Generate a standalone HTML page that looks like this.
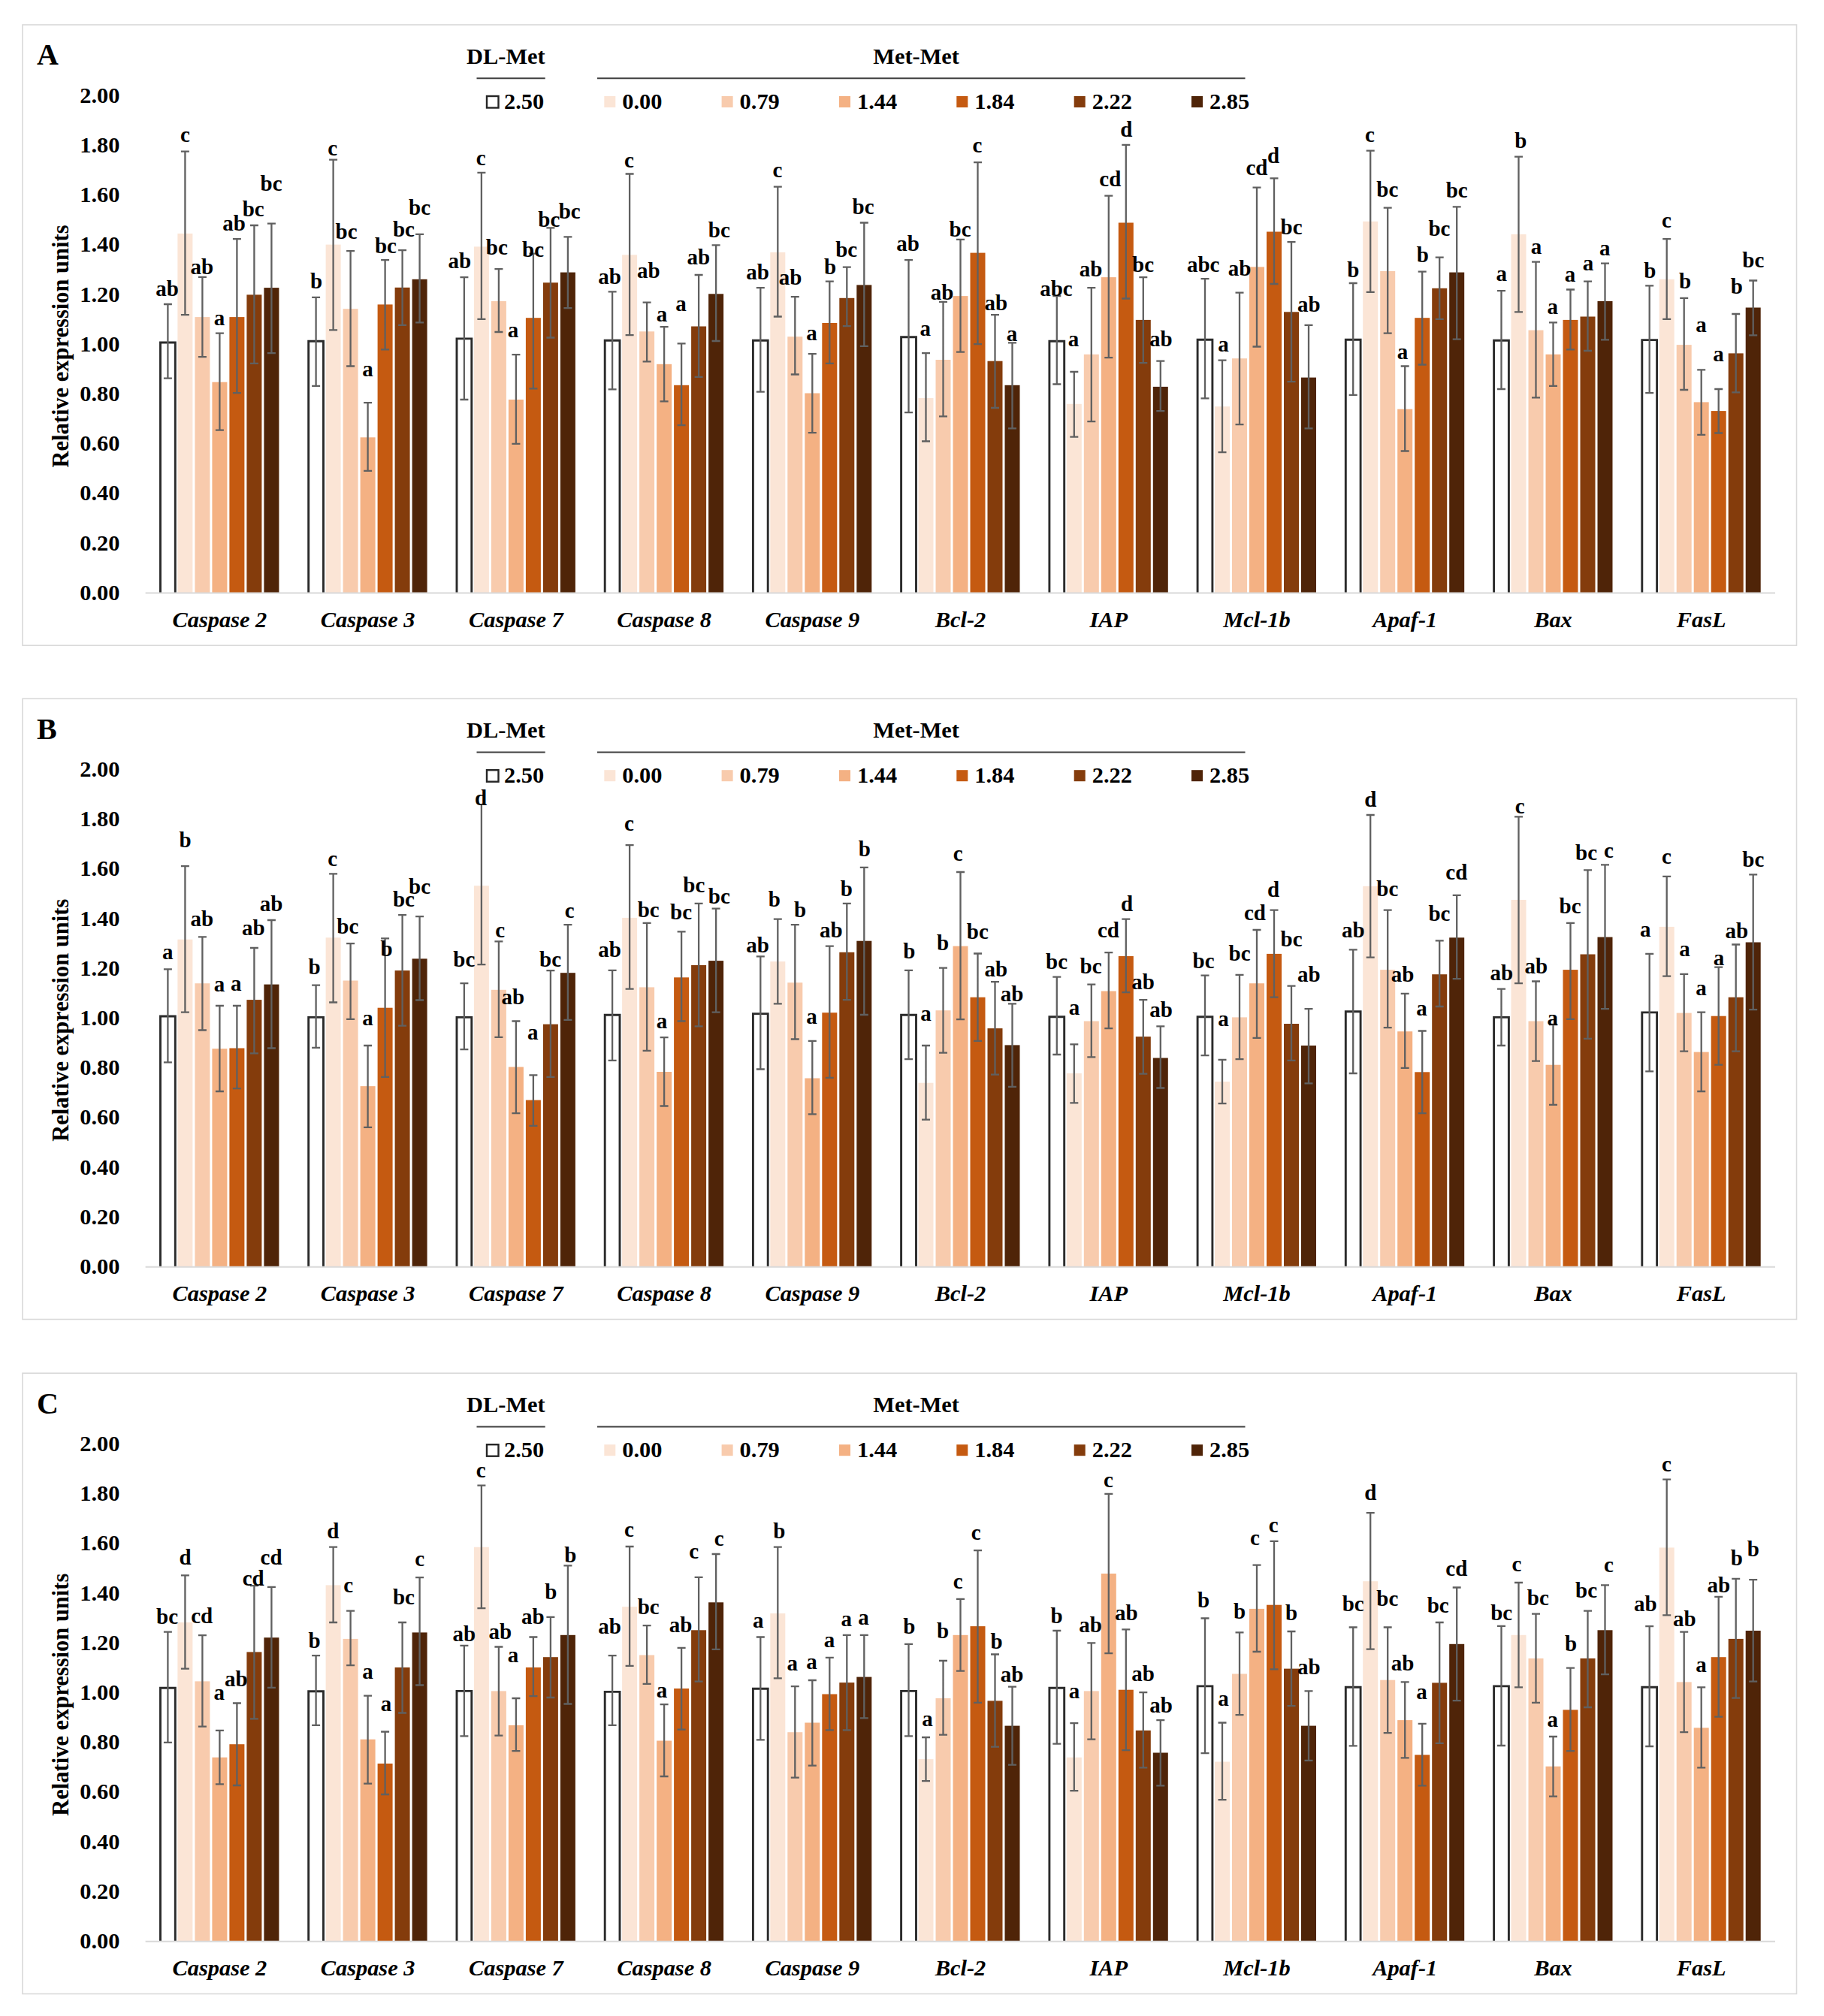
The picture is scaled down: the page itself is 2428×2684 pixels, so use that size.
<!DOCTYPE html><html><head><meta charset="utf-8"><title>Relative expression units</title>
<style>html,body{margin:0;padding:0;background:#fff}svg{display:block}text{font-family:"Liberation Serif","Times New Roman",serif;font-weight:bold;fill:#000}.ax{font-size:30.4px}.g{font-size:30.4px;font-style:italic}.l{font-size:29px}.p{font-size:40px}.e{stroke:#606060;stroke-width:2.3;fill:none}</style></head><body>
<svg width="2428" height="2684" viewBox="0 0 2428 2684">
<rect width="2428" height="2684" fill="#fff"/>
<g>
<rect x="30" y="33" width="2361.5" height="826.3" fill="#fff" stroke="#d9d9d9" stroke-width="1.6"/>
<text class="p" x="49" y="86.3">A</text>
<text class="ax" x="159.5" y="798.8" text-anchor="end">0.00</text>
<text class="ax" x="159.5" y="732.6" text-anchor="end">0.20</text>
<text class="ax" x="159.5" y="666.4" text-anchor="end">0.40</text>
<text class="ax" x="159.5" y="600.2" text-anchor="end">0.60</text>
<text class="ax" x="159.5" y="534" text-anchor="end">0.80</text>
<text class="ax" x="159.5" y="467.8" text-anchor="end">1.00</text>
<text class="ax" x="159.5" y="401.6" text-anchor="end">1.20</text>
<text class="ax" x="159.5" y="335.4" text-anchor="end">1.40</text>
<text class="ax" x="159.5" y="269.2" text-anchor="end">1.60</text>
<text class="ax" x="159.5" y="203" text-anchor="end">1.80</text>
<text class="ax" x="159.5" y="136.8" text-anchor="end">2.00</text>
<text class="ax" transform="translate(91,461) rotate(-90)" text-anchor="middle" style="font-size:30.5px">Relative expression units</text>
<text class="ax" x="673.4" y="85" text-anchor="middle">DL-Met</text>
<text class="ax" x="1219.6" y="85" text-anchor="middle">Met-Met</text>
<line x1="634.5" x2="725.7" y1="104.2" y2="104.2" stroke="#404040" stroke-width="2"/>
<line x1="795" x2="1657.5" y1="104.2" y2="104.2" stroke="#404040" stroke-width="2"/>
<rect x="648" y="128" width="15.5" height="15.5" fill="#fff" stroke="#262626" stroke-width="2.4"/>
<text class="ax" x="671" y="144.8">2.50</text>
<rect x="804.3" y="128" width="15" height="15" fill="#fbe5d6"/>
<text class="ax" x="828.3" y="144.8">0.00</text>
<rect x="960.6" y="128" width="15" height="15" fill="#f8cbad"/>
<text class="ax" x="984.6" y="144.8">0.79</text>
<rect x="1117" y="128" width="15" height="15" fill="#f4b183"/>
<text class="ax" x="1141" y="144.8">1.44</text>
<rect x="1273.3" y="128" width="15" height="15" fill="#c55a11"/>
<text class="ax" x="1297.3" y="144.8">1.84</text>
<rect x="1429.7" y="128" width="15" height="15" fill="#843c0c"/>
<text class="ax" x="1453.7" y="144.8">2.22</text>
<rect x="1586" y="128" width="15" height="15" fill="#4f2408"/>
<text class="ax" x="1610" y="144.8">2.85</text>
<path d="M213.5 789.2V456H233.3V789.2" fill="#fff" stroke="#2b2b2b" stroke-width="2.9" stroke-linejoin="miter"/>
<rect x="236.4" y="310.9" width="20" height="478.3" fill="#fbe5d6"/>
<rect x="259.4" y="422.1" width="20" height="367.1" fill="#f8cbad"/>
<rect x="282.4" y="508.7" width="20" height="280.5" fill="#f4b183"/>
<rect x="305.4" y="422.1" width="20" height="367.1" fill="#c55a11"/>
<rect x="328.4" y="392.4" width="20" height="396.8" fill="#843c0c"/>
<rect x="351.4" y="383.1" width="20" height="406.1" fill="#4f2408"/>
<path d="M410.7 789.2V454.3H430.5V789.2" fill="#fff" stroke="#2b2b2b" stroke-width="2.9" stroke-linejoin="miter"/>
<rect x="433.6" y="325.6" width="20" height="463.6" fill="#fbe5d6"/>
<rect x="456.6" y="411.2" width="20" height="378" fill="#f8cbad"/>
<rect x="479.6" y="582.3" width="20" height="206.9" fill="#f4b183"/>
<rect x="502.6" y="405.4" width="20" height="383.8" fill="#c55a11"/>
<rect x="525.6" y="382.8" width="20" height="406.4" fill="#843c0c"/>
<rect x="548.6" y="371.8" width="20" height="417.4" fill="#4f2408"/>
<path d="M608 789.2V450.9H627.8V789.2" fill="#fff" stroke="#2b2b2b" stroke-width="2.9" stroke-linejoin="miter"/>
<rect x="630.9" y="328.4" width="20" height="460.8" fill="#fbe5d6"/>
<rect x="653.9" y="400.9" width="20" height="388.3" fill="#f8cbad"/>
<rect x="676.9" y="532" width="20" height="257.2" fill="#f4b183"/>
<rect x="699.9" y="423.2" width="20" height="366" fill="#c55a11"/>
<rect x="722.9" y="376.3" width="20" height="412.9" fill="#843c0c"/>
<rect x="745.9" y="362.6" width="20" height="426.6" fill="#4f2408"/>
<path d="M805.2 789.2V453.3H825V789.2" fill="#fff" stroke="#2b2b2b" stroke-width="2.9" stroke-linejoin="miter"/>
<rect x="828.1" y="339.3" width="20" height="449.9" fill="#fbe5d6"/>
<rect x="851.1" y="441.3" width="20" height="347.9" fill="#f8cbad"/>
<rect x="874.1" y="484.8" width="20" height="304.4" fill="#f4b183"/>
<rect x="897.1" y="512.8" width="20" height="276.4" fill="#c55a11"/>
<rect x="920.1" y="434.5" width="20" height="354.7" fill="#843c0c"/>
<rect x="943.1" y="391.3" width="20" height="397.9" fill="#4f2408"/>
<path d="M1002.4 789.2V453.3H1022.2V789.2" fill="#fff" stroke="#2b2b2b" stroke-width="2.9" stroke-linejoin="miter"/>
<rect x="1025.3" y="335.9" width="20" height="453.3" fill="#fbe5d6"/>
<rect x="1048.3" y="448.2" width="20" height="341" fill="#f8cbad"/>
<rect x="1071.3" y="523.5" width="20" height="265.7" fill="#f4b183"/>
<rect x="1094.3" y="430" width="20" height="359.2" fill="#c55a11"/>
<rect x="1117.3" y="396.8" width="20" height="392.4" fill="#843c0c"/>
<rect x="1140.3" y="379.4" width="20" height="409.8" fill="#4f2408"/>
<path d="M1199.6 789.2V448.8H1219.5V789.2" fill="#fff" stroke="#2b2b2b" stroke-width="2.9" stroke-linejoin="miter"/>
<rect x="1222.5" y="530" width="20" height="259.2" fill="#fbe5d6"/>
<rect x="1245.5" y="479" width="20" height="310.2" fill="#f8cbad"/>
<rect x="1268.5" y="394.1" width="20" height="395.1" fill="#f4b183"/>
<rect x="1291.5" y="336.6" width="20" height="452.6" fill="#c55a11"/>
<rect x="1314.5" y="480.7" width="20" height="308.5" fill="#843c0c"/>
<rect x="1337.5" y="512.8" width="20" height="276.4" fill="#4f2408"/>
<path d="M1396.9 789.2V454.3H1416.7V789.2" fill="#fff" stroke="#2b2b2b" stroke-width="2.9" stroke-linejoin="miter"/>
<rect x="1419.8" y="537.8" width="20" height="251.4" fill="#fbe5d6"/>
<rect x="1442.8" y="471.8" width="20" height="317.4" fill="#f8cbad"/>
<rect x="1465.8" y="369.1" width="20" height="420.1" fill="#f4b183"/>
<rect x="1488.8" y="296.5" width="20" height="492.7" fill="#c55a11"/>
<rect x="1511.8" y="425.9" width="20" height="363.3" fill="#843c0c"/>
<rect x="1534.8" y="514.9" width="20" height="274.3" fill="#4f2408"/>
<path d="M1594.1 789.2V452.2H1613.9V789.2" fill="#fff" stroke="#2b2b2b" stroke-width="2.9" stroke-linejoin="miter"/>
<rect x="1617" y="541.2" width="20" height="248" fill="#fbe5d6"/>
<rect x="1640" y="477.2" width="20" height="312" fill="#f8cbad"/>
<rect x="1663" y="355.4" width="20" height="433.8" fill="#f4b183"/>
<rect x="1686" y="308.5" width="20" height="480.7" fill="#c55a11"/>
<rect x="1709" y="415.3" width="20" height="373.9" fill="#843c0c"/>
<rect x="1732" y="502.6" width="20" height="286.6" fill="#4f2408"/>
<path d="M1791.3 789.2V452.2H1811.1V789.2" fill="#fff" stroke="#2b2b2b" stroke-width="2.9" stroke-linejoin="miter"/>
<rect x="1814.2" y="294.8" width="20" height="494.4" fill="#fbe5d6"/>
<rect x="1837.2" y="360.9" width="20" height="428.3" fill="#f8cbad"/>
<rect x="1860.2" y="544.7" width="20" height="244.5" fill="#f4b183"/>
<rect x="1883.2" y="423.2" width="20" height="366" fill="#c55a11"/>
<rect x="1906.2" y="383.8" width="20" height="405.4" fill="#843c0c"/>
<rect x="1929.2" y="362.6" width="20" height="426.6" fill="#4f2408"/>
<path d="M1988.6 789.2V453.3H2008.4V789.2" fill="#fff" stroke="#2b2b2b" stroke-width="2.9" stroke-linejoin="miter"/>
<rect x="2011.5" y="311.9" width="20" height="477.3" fill="#fbe5d6"/>
<rect x="2034.5" y="439.6" width="20" height="349.6" fill="#f8cbad"/>
<rect x="2057.5" y="471.8" width="20" height="317.4" fill="#f4b183"/>
<rect x="2080.5" y="425.9" width="20" height="363.3" fill="#c55a11"/>
<rect x="2103.5" y="421.5" width="20" height="367.7" fill="#843c0c"/>
<rect x="2126.5" y="400.9" width="20" height="388.3" fill="#4f2408"/>
<path d="M2185.8 789.2V452.6H2205.6V789.2" fill="#fff" stroke="#2b2b2b" stroke-width="2.9" stroke-linejoin="miter"/>
<rect x="2208.7" y="371.8" width="20" height="417.4" fill="#fbe5d6"/>
<rect x="2231.7" y="459.1" width="20" height="330.1" fill="#f8cbad"/>
<rect x="2254.7" y="535.4" width="20" height="253.8" fill="#f4b183"/>
<rect x="2277.7" y="547.1" width="20" height="242.1" fill="#c55a11"/>
<rect x="2300.7" y="470.4" width="20" height="318.8" fill="#843c0c"/>
<rect x="2323.7" y="409.5" width="20" height="379.7" fill="#4f2408"/>
<line x1="193.6" x2="2363" y1="789.5" y2="789.5" stroke="#d9d9d9" stroke-width="2"/>
<path class="e" d="M223.4 405V503.6M217.9 405h11M217.9 503.6h11M246.4 201.7V419.1M240.9 201.7h11M240.9 419.1h11M269.4 368.8V475.2M263.9 368.8h11M263.9 475.2h11M292.4 443.7V572.7M286.9 443.7h11M286.9 572.7h11M315.4 318.1V523.1M309.9 318.1h11M309.9 523.1h11M338.4 300V483.8M332.9 300h11M332.9 483.8h11M361.4 297.6V470.1M355.9 297.6h11M355.9 470.1h11M420.6 395.8V513.9M415.1 395.8h11M415.1 513.9h11M443.6 212.7V439.3M438.1 212.7h11M438.1 439.3h11M466.6 334.2V487.5M461.1 334.2h11M461.1 487.5h11M489.6 536.1V626.8M484.1 536.1h11M484.1 626.8h11M512.6 346.2V465.3M507.1 346.2h11M507.1 465.3h11M535.6 333.2V432.8M530.1 333.2h11M530.1 432.8h11M558.6 311.9V429.3M553.1 311.9h11M553.1 429.3h11M617.9 369.1V532M612.4 369.1h11M612.4 532h11M640.9 229.8V424.9M635.4 229.8h11M635.4 424.9h11M663.9 358.1V442M658.4 358.1h11M658.4 442h11M686.9 472.1V590.9M681.4 472.1h11M681.4 590.9h11M709.9 337.6V517.3M704.4 337.6h11M704.4 517.3h11M732.9 303.4V449.5M727.4 303.4h11M727.4 449.5h11M755.9 315.4V410.2M750.4 315.4h11M750.4 410.2h11M815.1 388.3V518.3M809.6 388.3h11M809.6 518.3h11M838.1 231.5V446.1M832.6 231.5h11M832.6 446.1h11M861.1 402.6V481.4M855.6 402.6h11M855.6 481.4h11M884.1 435.1V534.4M878.6 435.1h11M878.6 534.4h11M907.1 457.4V566.2M901.6 457.4h11M901.6 566.2h11M930.1 366V501.9M924.6 366h11M924.6 501.9h11M953.1 326.3V454M947.6 326.3h11M947.6 454h11M1012.3 383.1V521.7M1006.8 383.1h11M1006.8 521.7h11M1035.3 248.6V421.5M1029.8 248.6h11M1029.8 421.5h11M1058.3 395.1V498.5M1052.8 395.1h11M1052.8 498.5h11M1081.3 471.1V576.2M1075.8 471.1h11M1075.8 576.2h11M1104.3 374.6V483.8M1098.8 374.6h11M1098.8 483.8h11M1127.3 355.7V434.1M1121.8 355.7h11M1121.8 434.1h11M1150.3 296.5V460.8M1144.8 296.5h11M1144.8 460.8h11M1209.5 346.2V549.1M1204 346.2h11M1204 549.1h11M1232.5 470.1V587.5M1227 470.1h11M1227 587.5h11M1255.5 401.9V554.3M1250 401.9h11M1250 554.3h11M1278.5 318.8V468.7M1273 318.8h11M1273 468.7h11M1301.5 216.1V458.1M1296 216.1h11M1296 458.1h11M1324.5 419.1V543M1319 419.1h11M1319 543h11M1347.5 456.4V570.3M1342 456.4h11M1342 570.3h11M1406.8 394.1V511.5M1401.3 394.1h11M1401.3 511.5h11M1429.8 495V581.6M1424.3 495h11M1424.3 581.6h11M1452.8 383.1V561.1M1447.3 383.1h11M1447.3 561.1h11M1475.8 260.6V476.2M1470.3 260.6h11M1470.3 476.2h11M1498.8 192.8V397.5M1493.3 192.8h11M1493.3 397.5h11M1521.8 369.1V483.1M1516.3 369.1h11M1516.3 483.1h11M1544.8 480.7V547.1M1539.3 480.7h11M1539.3 547.1h11M1604 371.1V530.3M1598.5 371.1h11M1598.5 530.3h11M1627 479.6V602.2M1621.5 479.6h11M1621.5 602.2h11M1650 389.6V565.2M1644.5 389.6h11M1644.5 565.2h11M1673 249.6V461.5M1667.5 249.6h11M1667.5 461.5h11M1696 237.3V378M1690.5 237.3h11M1690.5 378h11M1719 322.2V508.1M1713.5 322.2h11M1713.5 508.1h11M1742 432.8V570.3M1736.5 432.8h11M1736.5 570.3h11M1801.2 377V525.8M1795.7 377h11M1795.7 525.8h11M1824.2 200.7V388.9M1818.7 200.7h11M1818.7 388.9h11M1847.2 276.7V443.7M1841.7 276.7h11M1841.7 443.7h11M1870.2 487.5V600.5M1864.7 487.5h11M1864.7 600.5h11M1893.2 361.6V485.5M1887.7 361.6h11M1887.7 485.5h11M1916.2 342.7V424.9M1910.7 342.7h11M1910.7 424.9h11M1939.2 275.3V451.6M1933.7 275.3h11M1933.7 451.6h11M1998.5 387.2V518M1993 387.2h11M1993 518h11M2021.5 208.6V415.3M2016 208.6h11M2016 415.3h11M2044.5 348.6V529.3M2039 348.6h11M2039 529.3h11M2067.5 429.3V513.9M2062 429.3h11M2062 513.9h11M2090.5 385.5V465.3M2085 385.5h11M2085 465.3h11M2113.5 374.6V467M2108 374.6h11M2108 467h11M2136.5 350.6V452.3M2131 350.6h11M2131 452.3h11M2195.7 380.4V523.1M2190.2 380.4h11M2190.2 523.1h11M2218.7 318.1V424.9M2213.2 318.1h11M2213.2 424.9h11M2241.7 396.8V519M2236.2 396.8h11M2236.2 519h11M2264.7 492.3V578.9M2259.2 492.3h11M2259.2 578.9h11M2287.7 518V576.5M2282.2 518h11M2282.2 576.5h11M2310.7 418V522.4M2305.2 418h11M2305.2 522.4h11M2333.7 373.5V446.4M2328.2 373.5h11M2328.2 446.4h11"/>
<text class="l" x="222.5" y="394.1" text-anchor="middle">ab</text>
<text class="l" x="246.5" y="189.4" text-anchor="middle">c</text>
<text class="l" x="268.7" y="365" text-anchor="middle">ab</text>
<text class="l" x="292" y="432.8" text-anchor="middle">a</text>
<text class="l" x="311.5" y="306.8" text-anchor="middle">ab</text>
<text class="l" x="337.2" y="288" text-anchor="middle">bc</text>
<text class="l" x="361.1" y="253.8" text-anchor="middle">bc</text>
<text class="l" x="421" y="383.8" text-anchor="middle">b</text>
<text class="l" x="442.6" y="206.5" text-anchor="middle">c</text>
<text class="l" x="461.1" y="318.1" text-anchor="middle">bc</text>
<text class="l" x="489.5" y="501.2" text-anchor="middle">a</text>
<text class="l" x="513.4" y="336.6" text-anchor="middle">bc</text>
<text class="l" x="537.4" y="315.4" text-anchor="middle">bc</text>
<text class="l" x="558.6" y="285.6" text-anchor="middle">bc</text>
<text class="l" x="611.7" y="357.1" text-anchor="middle">ab</text>
<text class="l" x="640.1" y="219.5" text-anchor="middle">c</text>
<text class="l" x="661.3" y="338.6" text-anchor="middle">bc</text>
<text class="l" x="682.9" y="448.8" text-anchor="middle">a</text>
<text class="l" x="709.6" y="341.7" text-anchor="middle">bc</text>
<text class="l" x="730.8" y="301.7" text-anchor="middle">bc</text>
<text class="l" x="758.2" y="291.4" text-anchor="middle">bc</text>
<text class="l" x="811.5" y="377.6" text-anchor="middle">ab</text>
<text class="l" x="837.5" y="222.9" text-anchor="middle">c</text>
<text class="l" x="863.2" y="370.1" text-anchor="middle">ab</text>
<text class="l" x="881" y="428.3" text-anchor="middle">a</text>
<text class="l" x="906.6" y="413.9" text-anchor="middle">a</text>
<text class="l" x="929.9" y="352" text-anchor="middle">ab</text>
<text class="l" x="957.3" y="316.4" text-anchor="middle">bc</text>
<text class="l" x="1008.6" y="371.8" text-anchor="middle">ab</text>
<text class="l" x="1035" y="235.6" text-anchor="middle">c</text>
<text class="l" x="1052.1" y="378.7" text-anchor="middle">ab</text>
<text class="l" x="1080.5" y="453.3" text-anchor="middle">a</text>
<text class="l" x="1105.1" y="365" text-anchor="middle">b</text>
<text class="l" x="1126.7" y="342.1" text-anchor="middle">bc</text>
<text class="l" x="1149" y="284.6" text-anchor="middle">bc</text>
<text class="l" x="1208.5" y="334.2" text-anchor="middle">ab</text>
<text class="l" x="1231.8" y="447.1" text-anchor="middle">a</text>
<text class="l" x="1254" y="399.2" text-anchor="middle">ab</text>
<text class="l" x="1278" y="315.4" text-anchor="middle">bc</text>
<text class="l" x="1300.9" y="203.1" text-anchor="middle">c</text>
<text class="l" x="1325.9" y="412.9" text-anchor="middle">ab</text>
<text class="l" x="1347.1" y="454" text-anchor="middle">a</text>
<text class="l" x="1405.9" y="394.1" text-anchor="middle">abc</text>
<text class="l" x="1428.9" y="460.8" text-anchor="middle">a</text>
<text class="l" x="1452.1" y="368.4" text-anchor="middle">ab</text>
<text class="l" x="1477.8" y="247.9" text-anchor="middle">cd</text>
<text class="l" x="1499.4" y="181.9" text-anchor="middle">d</text>
<text class="l" x="1521.6" y="361.6" text-anchor="middle">bc</text>
<text class="l" x="1545.2" y="460.8" text-anchor="middle">ab</text>
<text class="l" x="1601.7" y="361.6" text-anchor="middle">abc</text>
<text class="l" x="1628.4" y="467.7" text-anchor="middle">a</text>
<text class="l" x="1650" y="366.7" text-anchor="middle">ab</text>
<text class="l" x="1672.9" y="232.5" text-anchor="middle">cd</text>
<text class="l" x="1695.1" y="217.1" text-anchor="middle">d</text>
<text class="l" x="1719.1" y="311.9" text-anchor="middle">bc</text>
<text class="l" x="1742.4" y="414.6" text-anchor="middle">ab</text>
<text class="l" x="1801.2" y="369.4" text-anchor="middle">b</text>
<text class="l" x="1823.5" y="188.7" text-anchor="middle">c</text>
<text class="l" x="1846.8" y="261.6" text-anchor="middle">bc</text>
<text class="l" x="1867" y="477.9" text-anchor="middle">a</text>
<text class="l" x="1893.7" y="348.6" text-anchor="middle">b</text>
<text class="l" x="1915.9" y="313.6" text-anchor="middle">bc</text>
<text class="l" x="1939.2" y="263" text-anchor="middle">bc</text>
<text class="l" x="1998.7" y="373.5" text-anchor="middle">a</text>
<text class="l" x="2024.3" y="197.3" text-anchor="middle">b</text>
<text class="l" x="2044.9" y="338.3" text-anchor="middle">a</text>
<text class="l" x="2066.8" y="418" text-anchor="middle">a</text>
<text class="l" x="2090.1" y="374.6" text-anchor="middle">a</text>
<text class="l" x="2114" y="359.9" text-anchor="middle">a</text>
<text class="l" x="2136.3" y="340.3" text-anchor="middle">a</text>
<text class="l" x="2196.2" y="370.1" text-anchor="middle">b</text>
<text class="l" x="2218.4" y="303.4" text-anchor="middle">c</text>
<text class="l" x="2243.1" y="383.8" text-anchor="middle">b</text>
<text class="l" x="2264.6" y="442" text-anchor="middle">a</text>
<text class="l" x="2287.5" y="480.7" text-anchor="middle">a</text>
<text class="l" x="2311.8" y="390.7" text-anchor="middle">b</text>
<text class="l" x="2333.8" y="355.7" text-anchor="middle">bc</text>
<text class="g" x="292.4" y="834.8" text-anchor="middle">Caspase 2</text>
<text class="g" x="489.6" y="834.8" text-anchor="middle">Caspase 3</text>
<text class="g" x="686.9" y="834.8" text-anchor="middle">Caspase 7</text>
<text class="g" x="884.1" y="834.8" text-anchor="middle">Caspase 8</text>
<text class="g" x="1081.3" y="834.8" text-anchor="middle">Caspase 9</text>
<text class="g" x="1278.5" y="834.8" text-anchor="middle">Bcl-2</text>
<text class="g" x="1475.8" y="834.8" text-anchor="middle">IAP</text>
<text class="g" x="1673" y="834.8" text-anchor="middle">Mcl-1b</text>
<text class="g" x="1870.2" y="834.8" text-anchor="middle">Apaf-1</text>
<text class="g" x="2067.5" y="834.8" text-anchor="middle">Bax</text>
<text class="g" x="2264.7" y="834.8" text-anchor="middle">FasL</text>
</g>
<g>
<rect x="30" y="930.2" width="2361.5" height="826.3" fill="#fff" stroke="#d9d9d9" stroke-width="1.6"/>
<text class="p" x="49" y="983.5">B</text>
<text class="ax" x="159.5" y="1696" text-anchor="end">0.00</text>
<text class="ax" x="159.5" y="1629.8" text-anchor="end">0.20</text>
<text class="ax" x="159.5" y="1563.6" text-anchor="end">0.40</text>
<text class="ax" x="159.5" y="1497.4" text-anchor="end">0.60</text>
<text class="ax" x="159.5" y="1431.2" text-anchor="end">0.80</text>
<text class="ax" x="159.5" y="1365" text-anchor="end">1.00</text>
<text class="ax" x="159.5" y="1298.8" text-anchor="end">1.20</text>
<text class="ax" x="159.5" y="1232.6" text-anchor="end">1.40</text>
<text class="ax" x="159.5" y="1166.4" text-anchor="end">1.60</text>
<text class="ax" x="159.5" y="1100.2" text-anchor="end">1.80</text>
<text class="ax" x="159.5" y="1034" text-anchor="end">2.00</text>
<text class="ax" transform="translate(91,1358.2) rotate(-90)" text-anchor="middle" style="font-size:30.5px">Relative expression units</text>
<text class="ax" x="673.4" y="982.2" text-anchor="middle">DL-Met</text>
<text class="ax" x="1219.6" y="982.2" text-anchor="middle">Met-Met</text>
<line x1="634.5" x2="725.7" y1="1001.4" y2="1001.4" stroke="#404040" stroke-width="2"/>
<line x1="795" x2="1657.5" y1="1001.4" y2="1001.4" stroke="#404040" stroke-width="2"/>
<rect x="648" y="1025.2" width="15.5" height="15.5" fill="#fff" stroke="#262626" stroke-width="2.4"/>
<text class="ax" x="671" y="1042">2.50</text>
<rect x="804.3" y="1025.2" width="15" height="15" fill="#fbe5d6"/>
<text class="ax" x="828.3" y="1042">0.00</text>
<rect x="960.6" y="1025.2" width="15" height="15" fill="#f8cbad"/>
<text class="ax" x="984.6" y="1042">0.79</text>
<rect x="1117" y="1025.2" width="15" height="15" fill="#f4b183"/>
<text class="ax" x="1141" y="1042">1.44</text>
<rect x="1273.3" y="1025.2" width="15" height="15" fill="#c55a11"/>
<text class="ax" x="1297.3" y="1042">1.84</text>
<rect x="1429.7" y="1025.2" width="15" height="15" fill="#843c0c"/>
<text class="ax" x="1453.7" y="1042">2.22</text>
<rect x="1586" y="1025.2" width="15" height="15" fill="#4f2408"/>
<text class="ax" x="1610" y="1042">2.85</text>
<path d="M213.5 1686.4V1353H233.3V1686.4" fill="#fff" stroke="#2b2b2b" stroke-width="2.9" stroke-linejoin="miter"/>
<rect x="236.4" y="1250.7" width="20" height="435.7" fill="#fbe5d6"/>
<rect x="259.4" y="1309.2" width="20" height="377.2" fill="#f8cbad"/>
<rect x="282.4" y="1396.2" width="20" height="290.2" fill="#f4b183"/>
<rect x="305.4" y="1395.5" width="20" height="290.9" fill="#c55a11"/>
<rect x="328.4" y="1331.1" width="20" height="355.3" fill="#843c0c"/>
<rect x="351.4" y="1310.6" width="20" height="375.8" fill="#4f2408"/>
<path d="M410.7 1686.4V1354.4H430.5V1686.4" fill="#fff" stroke="#2b2b2b" stroke-width="2.9" stroke-linejoin="miter"/>
<rect x="433.6" y="1248.3" width="20" height="438.1" fill="#fbe5d6"/>
<rect x="456.6" y="1305.5" width="20" height="380.9" fill="#f8cbad"/>
<rect x="479.6" y="1446.1" width="20" height="240.3" fill="#f4b183"/>
<rect x="502.6" y="1341.7" width="20" height="344.7" fill="#c55a11"/>
<rect x="525.6" y="1292.1" width="20" height="394.3" fill="#843c0c"/>
<rect x="548.6" y="1276.4" width="20" height="410" fill="#4f2408"/>
<path d="M608 1686.4V1354.4H627.8V1686.4" fill="#fff" stroke="#2b2b2b" stroke-width="2.9" stroke-linejoin="miter"/>
<rect x="630.9" y="1179.2" width="20" height="507.2" fill="#fbe5d6"/>
<rect x="653.9" y="1317.8" width="20" height="368.6" fill="#f8cbad"/>
<rect x="676.9" y="1420.5" width="20" height="265.9" fill="#f4b183"/>
<rect x="699.9" y="1464.6" width="20" height="221.8" fill="#c55a11"/>
<rect x="722.9" y="1363.6" width="20" height="322.8" fill="#843c0c"/>
<rect x="745.9" y="1295.2" width="20" height="391.2" fill="#4f2408"/>
<path d="M805.2 1686.4V1351.3H825V1686.4" fill="#fff" stroke="#2b2b2b" stroke-width="2.9" stroke-linejoin="miter"/>
<rect x="828.1" y="1221.9" width="20" height="464.5" fill="#fbe5d6"/>
<rect x="851.1" y="1314.4" width="20" height="372" fill="#f8cbad"/>
<rect x="874.1" y="1427" width="20" height="259.4" fill="#f4b183"/>
<rect x="897.1" y="1301.3" width="20" height="385.1" fill="#c55a11"/>
<rect x="920.1" y="1284.9" width="20" height="401.5" fill="#843c0c"/>
<rect x="943.1" y="1279.1" width="20" height="407.3" fill="#4f2408"/>
<path d="M1002.4 1686.4V1349.6H1022.2V1686.4" fill="#fff" stroke="#2b2b2b" stroke-width="2.9" stroke-linejoin="miter"/>
<rect x="1025.3" y="1280.1" width="20" height="406.3" fill="#fbe5d6"/>
<rect x="1048.3" y="1308.2" width="20" height="378.2" fill="#f8cbad"/>
<rect x="1071.3" y="1435.5" width="20" height="250.9" fill="#f4b183"/>
<rect x="1094.3" y="1348.2" width="20" height="338.2" fill="#c55a11"/>
<rect x="1117.3" y="1267.8" width="20" height="418.6" fill="#843c0c"/>
<rect x="1140.3" y="1252.7" width="20" height="433.7" fill="#4f2408"/>
<path d="M1199.6 1686.4V1351.3H1219.5V1686.4" fill="#fff" stroke="#2b2b2b" stroke-width="2.9" stroke-linejoin="miter"/>
<rect x="1222.5" y="1441.7" width="20" height="244.7" fill="#fbe5d6"/>
<rect x="1245.5" y="1345.2" width="20" height="341.2" fill="#f8cbad"/>
<rect x="1268.5" y="1259.6" width="20" height="426.8" fill="#f4b183"/>
<rect x="1291.5" y="1327.7" width="20" height="358.7" fill="#c55a11"/>
<rect x="1314.5" y="1369.1" width="20" height="317.3" fill="#843c0c"/>
<rect x="1337.5" y="1391.4" width="20" height="295" fill="#4f2408"/>
<path d="M1396.9 1686.4V1353.7H1416.7V1686.4" fill="#fff" stroke="#2b2b2b" stroke-width="2.9" stroke-linejoin="miter"/>
<rect x="1419.8" y="1429" width="20" height="257.4" fill="#fbe5d6"/>
<rect x="1442.8" y="1359.5" width="20" height="326.9" fill="#f8cbad"/>
<rect x="1465.8" y="1319.5" width="20" height="366.9" fill="#f4b183"/>
<rect x="1488.8" y="1272.9" width="20" height="413.5" fill="#c55a11"/>
<rect x="1511.8" y="1380.1" width="20" height="306.3" fill="#843c0c"/>
<rect x="1534.8" y="1408.5" width="20" height="277.9" fill="#4f2408"/>
<path d="M1594.1 1686.4V1353.7H1613.9V1686.4" fill="#fff" stroke="#2b2b2b" stroke-width="2.9" stroke-linejoin="miter"/>
<rect x="1617" y="1440" width="20" height="246.4" fill="#fbe5d6"/>
<rect x="1640" y="1354.4" width="20" height="332" fill="#f8cbad"/>
<rect x="1663" y="1309.2" width="20" height="377.2" fill="#f4b183"/>
<rect x="1686" y="1269.9" width="20" height="416.5" fill="#c55a11"/>
<rect x="1709" y="1363" width="20" height="323.4" fill="#843c0c"/>
<rect x="1732" y="1392" width="20" height="294.4" fill="#4f2408"/>
<path d="M1791.3 1686.4V1346.8H1811.1V1686.4" fill="#fff" stroke="#2b2b2b" stroke-width="2.9" stroke-linejoin="miter"/>
<rect x="1814.2" y="1179.8" width="20" height="506.6" fill="#fbe5d6"/>
<rect x="1837.2" y="1291.1" width="20" height="395.3" fill="#f8cbad"/>
<rect x="1860.2" y="1373.2" width="20" height="313.2" fill="#f4b183"/>
<rect x="1883.2" y="1427.3" width="20" height="259.1" fill="#c55a11"/>
<rect x="1906.2" y="1297.2" width="20" height="389.2" fill="#843c0c"/>
<rect x="1929.2" y="1248.3" width="20" height="438.1" fill="#4f2408"/>
<path d="M1988.6 1686.4V1354.4H2008.4V1686.4" fill="#fff" stroke="#2b2b2b" stroke-width="2.9" stroke-linejoin="miter"/>
<rect x="2011.5" y="1198" width="20" height="488.4" fill="#fbe5d6"/>
<rect x="2034.5" y="1359.5" width="20" height="326.9" fill="#f8cbad"/>
<rect x="2057.5" y="1417.7" width="20" height="268.7" fill="#f4b183"/>
<rect x="2080.5" y="1291.1" width="20" height="395.3" fill="#c55a11"/>
<rect x="2103.5" y="1270.5" width="20" height="415.9" fill="#843c0c"/>
<rect x="2126.5" y="1247.6" width="20" height="438.8" fill="#4f2408"/>
<path d="M2185.8 1686.4V1347.9H2205.6V1686.4" fill="#fff" stroke="#2b2b2b" stroke-width="2.9" stroke-linejoin="miter"/>
<rect x="2208.7" y="1233.9" width="20" height="452.5" fill="#fbe5d6"/>
<rect x="2231.7" y="1348.6" width="20" height="337.8" fill="#f8cbad"/>
<rect x="2254.7" y="1400.6" width="20" height="285.8" fill="#f4b183"/>
<rect x="2277.7" y="1352.7" width="20" height="333.7" fill="#c55a11"/>
<rect x="2300.7" y="1327.7" width="20" height="358.7" fill="#843c0c"/>
<rect x="2323.7" y="1254.5" width="20" height="431.9" fill="#4f2408"/>
<line x1="193.6" x2="2363" y1="1686.7" y2="1686.7" stroke="#d9d9d9" stroke-width="2"/>
<path class="e" d="M223.4 1290.4V1414.3M217.9 1290.4h11M217.9 1414.3h11M246.4 1153.1V1347.6M240.9 1153.1h11M240.9 1347.6h11M269.4 1247.3V1371.5M263.9 1247.3h11M263.9 1371.5h11M292.4 1339V1453M286.9 1339h11M286.9 1453h11M315.4 1339V1449.2M309.9 1339h11M309.9 1449.2h11M338.4 1262V1402.3M332.9 1262h11M332.9 1402.3h11M361.4 1225V1395.5M355.9 1225h11M355.9 1395.5h11M420.6 1311.6V1394.8M415.1 1311.6h11M415.1 1394.8h11M443.6 1163.4V1334.5M438.1 1163.4h11M438.1 1334.5h11M466.6 1256.2V1356.8M461.1 1256.2h11M461.1 1356.8h11M489.6 1392V1500.9M484.1 1392h11M484.1 1500.9h11M512.6 1249.3V1433.8M507.1 1249.3h11M507.1 1433.8h11M535.6 1218.2V1365.7M530.1 1218.2h11M530.1 1365.7h11M558.6 1220.2V1331.5M553.1 1220.2h11M553.1 1331.5h11M617.9 1309.2V1397.2M612.4 1309.2h11M612.4 1397.2h11M640.9 1068.6V1284.2M635.4 1068.6h11M635.4 1284.2h11M663.9 1253.4V1380.8M658.4 1253.4h11M658.4 1380.8h11M686.9 1359.5V1482.1M681.4 1359.5h11M681.4 1482.1h11M709.9 1431.4V1498.8M704.4 1431.4h11M704.4 1498.8h11M732.9 1292.1V1433.8M727.4 1292.1h11M727.4 1433.8h11M755.9 1231.2V1357.8M750.4 1231.2h11M750.4 1357.8h11M815.1 1291.8V1411.9M809.6 1291.8h11M809.6 1411.9h11M838.1 1125.1V1316.7M832.6 1125.1h11M832.6 1316.7h11M861.1 1228.8V1398.9M855.6 1228.8h11M855.6 1398.9h11M884.1 1381.1V1472.5M878.6 1381.1h11M878.6 1472.5h11M907.1 1240.4V1359.5M901.6 1240.4h11M901.6 1359.5h11M930.1 1202.8V1366.4M924.6 1202.8h11M924.6 1366.4h11M953.1 1209.6V1347.6M947.6 1209.6h11M947.6 1347.6h11M1012.3 1273.3V1423.5M1006.8 1273.3h11M1006.8 1423.5h11M1035.3 1223.7V1336.3M1029.8 1223.7h11M1029.8 1336.3h11M1058.3 1231.2V1383.5M1052.8 1231.2h11M1052.8 1383.5h11M1081.3 1385.9V1483.4M1075.8 1385.9h11M1075.8 1483.4h11M1104.3 1259.6V1434.8M1098.8 1259.6h11M1098.8 1434.8h11M1127.3 1202.8V1331.1M1121.8 1202.8h11M1121.8 1331.1h11M1150.3 1154.9V1351M1144.8 1154.9h11M1144.8 1351h11M1209.5 1291.8V1410.2M1204 1291.8h11M1204 1410.2h11M1232.5 1392V1490.6M1227 1392h11M1227 1490.6h11M1255.5 1288.7V1401.6M1250 1288.7h11M1250 1401.6h11M1278.5 1161V1357.1M1273 1161h11M1273 1357.1h11M1301.5 1269.5V1385.9M1296 1269.5h11M1296 1385.9h11M1324.5 1307.2V1430.7M1319 1307.2h11M1319 1430.7h11M1347.5 1336.3V1446.8M1342 1336.3h11M1342 1446.8h11M1406.8 1300.7V1404M1401.3 1300.7h11M1401.3 1404h11M1429.8 1390.3V1468.4M1424.3 1390.3h11M1424.3 1468.4h11M1452.8 1310.6V1407.4M1447.3 1310.6h11M1447.3 1407.4h11M1475.8 1268.1V1369.1M1470.3 1268.1h11M1470.3 1369.1h11M1498.8 1223.7V1321.2M1493.3 1223.7h11M1493.3 1321.2h11M1521.8 1331.1V1429.7M1516.3 1331.1h11M1516.3 1429.7h11M1544.8 1366.4V1448.5M1539.3 1366.4h11M1539.3 1448.5h11M1604 1298.6V1405.1M1598.5 1298.6h11M1598.5 1405.1h11M1627 1410.9V1469.1M1621.5 1410.9h11M1621.5 1469.1h11M1650 1297.9V1410.2M1644.5 1297.9h11M1644.5 1410.2h11M1673 1238V1381.8M1667.5 1238h11M1667.5 1381.8h11M1696 1211.7V1327.7M1690.5 1211.7h11M1690.5 1327.7h11M1719 1312.6V1411.9M1713.5 1312.6h11M1713.5 1411.9h11M1742 1343.1V1442.4M1736.5 1343.1h11M1736.5 1442.4h11M1801.2 1264.4V1429M1795.7 1264.4h11M1795.7 1429h11M1824.2 1085V1274.6M1818.7 1085h11M1818.7 1274.6h11M1847.2 1211.7V1368.1M1841.7 1211.7h11M1841.7 1368.1h11M1870.2 1322.9V1421.8M1864.7 1322.9h11M1864.7 1421.8h11M1893.2 1372.5V1482.1M1887.7 1372.5h11M1887.7 1482.1h11M1916.2 1252.4V1340M1910.7 1252.4h11M1910.7 1340h11M1939.2 1191.8V1303.1M1933.7 1191.8h11M1933.7 1303.1h11M1998.5 1316.7V1392M1993 1316.7h11M1993 1392h11M2021.5 1087.4V1309.2M2016 1087.4h11M2016 1309.2h11M2044.5 1306.5V1412.6M2039 1306.5h11M2039 1412.6h11M2067.5 1364V1470.8M2062 1364h11M2062 1470.8h11M2090.5 1228.8V1356.8M2085 1228.8h11M2085 1356.8h11M2113.5 1158.3V1382.8M2108 1158.3h11M2108 1382.8h11M2136.5 1151.4V1343.1M2131 1151.4h11M2131 1343.1h11M2195.7 1269.9V1426.3M2190.2 1269.9h11M2190.2 1426.3h11M2218.7 1166.8V1299.6M2213.2 1166.8h11M2213.2 1299.6h11M2241.7 1296.9V1399.6M2236.2 1296.9h11M2236.2 1399.6h11M2264.7 1347.6V1453M2259.2 1347.6h11M2259.2 1453h11M2287.7 1287.7V1417.7M2282.2 1287.7h11M2282.2 1417.7h11M2310.7 1257.5V1399.6M2305.2 1257.5h11M2305.2 1399.6h11M2333.7 1164.4V1344.1M2328.2 1164.4h11M2328.2 1344.1h11"/>
<text class="l" x="223.2" y="1276.7" text-anchor="middle">a</text>
<text class="l" x="246.5" y="1127.5" text-anchor="middle">b</text>
<text class="l" x="268.7" y="1232.9" text-anchor="middle">ab</text>
<text class="l" x="292" y="1320.2" text-anchor="middle">a</text>
<text class="l" x="314.2" y="1318.5" text-anchor="middle">a</text>
<text class="l" x="337.2" y="1244.9" text-anchor="middle">ab</text>
<text class="l" x="361.1" y="1213.4" text-anchor="middle">ab</text>
<text class="l" x="418.6" y="1297.2" text-anchor="middle">b</text>
<text class="l" x="442.6" y="1152.5" text-anchor="middle">c</text>
<text class="l" x="462.8" y="1243.2" text-anchor="middle">bc</text>
<text class="l" x="489.5" y="1364.7" text-anchor="middle">a</text>
<text class="l" x="514.5" y="1272.9" text-anchor="middle">b</text>
<text class="l" x="537.4" y="1206.5" text-anchor="middle">bc</text>
<text class="l" x="558.6" y="1190.1" text-anchor="middle">bc</text>
<text class="l" x="617.8" y="1287" text-anchor="middle">bc</text>
<rect x="625.1" y="1044.7" width="30" height="27" fill="#fff"/>
<text class="l" x="640.1" y="1071.7" text-anchor="middle">d</text>
<text class="l" x="665.7" y="1247.6" text-anchor="middle">c</text>
<text class="l" x="682.9" y="1337.3" text-anchor="middle">ab</text>
<text class="l" x="709.2" y="1383.5" text-anchor="middle">a</text>
<text class="l" x="732.5" y="1287" text-anchor="middle">bc</text>
<text class="l" x="758.2" y="1221.9" text-anchor="middle">c</text>
<text class="l" x="811.5" y="1274" text-anchor="middle">ab</text>
<text class="l" x="837.5" y="1106.3" text-anchor="middle">c</text>
<text class="l" x="863.2" y="1220.9" text-anchor="middle">bc</text>
<text class="l" x="881" y="1369.1" text-anchor="middle">a</text>
<text class="l" x="906.6" y="1224.3" text-anchor="middle">bc</text>
<text class="l" x="923.8" y="1188.4" text-anchor="middle">bc</text>
<text class="l" x="957.3" y="1203.1" text-anchor="middle">bc</text>
<text class="l" x="1008.6" y="1267.8" text-anchor="middle">ab</text>
<text class="l" x="1030.9" y="1207.2" text-anchor="middle">b</text>
<text class="l" x="1065.1" y="1220.9" text-anchor="middle">b</text>
<text class="l" x="1080.5" y="1363" text-anchor="middle">a</text>
<text class="l" x="1106.2" y="1248.3" text-anchor="middle">ab</text>
<text class="l" x="1126.7" y="1192.5" text-anchor="middle">b</text>
<text class="l" x="1150.7" y="1139.5" text-anchor="middle">b</text>
<text class="l" x="1210.2" y="1276.4" text-anchor="middle">b</text>
<text class="l" x="1232.5" y="1358.5" text-anchor="middle">a</text>
<text class="l" x="1255.1" y="1265.4" text-anchor="middle">b</text>
<text class="l" x="1275.3" y="1145.6" text-anchor="middle">c</text>
<text class="l" x="1301.3" y="1250" text-anchor="middle">bc</text>
<text class="l" x="1325.9" y="1299.6" text-anchor="middle">ab</text>
<text class="l" x="1347.1" y="1333.2" text-anchor="middle">ab</text>
<text class="l" x="1406.6" y="1290.4" text-anchor="middle">bc</text>
<text class="l" x="1429.9" y="1351" text-anchor="middle">a</text>
<text class="l" x="1452.1" y="1295.5" text-anchor="middle">bc</text>
<text class="l" x="1475.4" y="1247.6" text-anchor="middle">cd</text>
<text class="l" x="1500.1" y="1213" text-anchor="middle">d</text>
<text class="l" x="1521.6" y="1316.7" text-anchor="middle">ab</text>
<text class="l" x="1545.6" y="1354.4" text-anchor="middle">ab</text>
<text class="l" x="1602.1" y="1288.7" text-anchor="middle">bc</text>
<text class="l" x="1628.4" y="1366.4" text-anchor="middle">a</text>
<text class="l" x="1650" y="1279.1" text-anchor="middle">bc</text>
<text class="l" x="1670.5" y="1225" text-anchor="middle">cd</text>
<text class="l" x="1695.1" y="1193.5" text-anchor="middle">d</text>
<text class="l" x="1719.1" y="1259.6" text-anchor="middle">bc</text>
<text class="l" x="1742.4" y="1307.2" text-anchor="middle">ab</text>
<text class="l" x="1801.2" y="1247.6" text-anchor="middle">ab</text>
<text class="l" x="1824.2" y="1073.7" text-anchor="middle">d</text>
<text class="l" x="1846.8" y="1192.8" text-anchor="middle">bc</text>
<text class="l" x="1867" y="1306.5" text-anchor="middle">ab</text>
<text class="l" x="1892.6" y="1352" text-anchor="middle">a</text>
<text class="l" x="1915.9" y="1226" text-anchor="middle">bc</text>
<text class="l" x="1938.8" y="1171.3" text-anchor="middle">cd</text>
<text class="l" x="1998.7" y="1304.8" text-anchor="middle">ab</text>
<text class="l" x="2023.3" y="1083" text-anchor="middle">c</text>
<text class="l" x="2044.9" y="1295.5" text-anchor="middle">ab</text>
<text class="l" x="2066.8" y="1364.7" text-anchor="middle">a</text>
<text class="l" x="2090.1" y="1215.8" text-anchor="middle">bc</text>
<text class="l" x="2111.6" y="1144.6" text-anchor="middle">bc</text>
<text class="l" x="2141.4" y="1142.2" text-anchor="middle">c</text>
<text class="l" x="2190.3" y="1247.3" text-anchor="middle">a</text>
<text class="l" x="2218.4" y="1150.1" text-anchor="middle">c</text>
<text class="l" x="2242.4" y="1272.9" text-anchor="middle">a</text>
<text class="l" x="2264.6" y="1324.6" text-anchor="middle">a</text>
<text class="l" x="2287.9" y="1284.9" text-anchor="middle">a</text>
<text class="l" x="2311.8" y="1249.3" text-anchor="middle">ab</text>
<text class="l" x="2333.8" y="1154.2" text-anchor="middle">bc</text>
<text class="g" x="292.4" y="1732" text-anchor="middle">Caspase 2</text>
<text class="g" x="489.6" y="1732" text-anchor="middle">Caspase 3</text>
<text class="g" x="686.9" y="1732" text-anchor="middle">Caspase 7</text>
<text class="g" x="884.1" y="1732" text-anchor="middle">Caspase 8</text>
<text class="g" x="1081.3" y="1732" text-anchor="middle">Caspase 9</text>
<text class="g" x="1278.5" y="1732" text-anchor="middle">Bcl-2</text>
<text class="g" x="1475.8" y="1732" text-anchor="middle">IAP</text>
<text class="g" x="1673" y="1732" text-anchor="middle">Mcl-1b</text>
<text class="g" x="1870.2" y="1732" text-anchor="middle">Apaf-1</text>
<text class="g" x="2067.5" y="1732" text-anchor="middle">Bax</text>
<text class="g" x="2264.7" y="1732" text-anchor="middle">FasL</text>
</g>
<g>
<rect x="30" y="1828.2" width="2361.5" height="826.3" fill="#fff" stroke="#d9d9d9" stroke-width="1.6"/>
<text class="p" x="49" y="1881.5">C</text>
<text class="ax" x="159.5" y="2594" text-anchor="end">0.00</text>
<text class="ax" x="159.5" y="2527.8" text-anchor="end">0.20</text>
<text class="ax" x="159.5" y="2461.6" text-anchor="end">0.40</text>
<text class="ax" x="159.5" y="2395.4" text-anchor="end">0.60</text>
<text class="ax" x="159.5" y="2329.2" text-anchor="end">0.80</text>
<text class="ax" x="159.5" y="2263" text-anchor="end">1.00</text>
<text class="ax" x="159.5" y="2196.8" text-anchor="end">1.20</text>
<text class="ax" x="159.5" y="2130.6" text-anchor="end">1.40</text>
<text class="ax" x="159.5" y="2064.4" text-anchor="end">1.60</text>
<text class="ax" x="159.5" y="1998.2" text-anchor="end">1.80</text>
<text class="ax" x="159.5" y="1932" text-anchor="end">2.00</text>
<text class="ax" transform="translate(91,2256.2) rotate(-90)" text-anchor="middle" style="font-size:30.5px">Relative expression units</text>
<text class="ax" x="673.4" y="1880.2" text-anchor="middle">DL-Met</text>
<text class="ax" x="1219.6" y="1880.2" text-anchor="middle">Met-Met</text>
<line x1="634.5" x2="725.7" y1="1899.4" y2="1899.4" stroke="#404040" stroke-width="2"/>
<line x1="795" x2="1657.5" y1="1899.4" y2="1899.4" stroke="#404040" stroke-width="2"/>
<rect x="648" y="1923.2" width="15.5" height="15.5" fill="#fff" stroke="#262626" stroke-width="2.4"/>
<text class="ax" x="671" y="1940">2.50</text>
<rect x="804.3" y="1923.2" width="15" height="15" fill="#fbe5d6"/>
<text class="ax" x="828.3" y="1940">0.00</text>
<rect x="960.6" y="1923.2" width="15" height="15" fill="#f8cbad"/>
<text class="ax" x="984.6" y="1940">0.79</text>
<rect x="1117" y="1923.2" width="15" height="15" fill="#f4b183"/>
<text class="ax" x="1141" y="1940">1.44</text>
<rect x="1273.3" y="1923.2" width="15" height="15" fill="#c55a11"/>
<text class="ax" x="1297.3" y="1940">1.84</text>
<rect x="1429.7" y="1923.2" width="15" height="15" fill="#843c0c"/>
<text class="ax" x="1453.7" y="1940">2.22</text>
<rect x="1586" y="1923.2" width="15" height="15" fill="#4f2408"/>
<text class="ax" x="1610" y="1940">2.85</text>
<path d="M213.5 2584.4V2247.3H233.3V2584.4" fill="#fff" stroke="#2b2b2b" stroke-width="2.9" stroke-linejoin="miter"/>
<rect x="236.4" y="2160" width="20" height="424.4" fill="#fbe5d6"/>
<rect x="259.4" y="2238.4" width="20" height="346" fill="#f8cbad"/>
<rect x="282.4" y="2339.7" width="20" height="244.7" fill="#f4b183"/>
<rect x="305.4" y="2322.2" width="20" height="262.2" fill="#c55a11"/>
<rect x="328.4" y="2199.4" width="20" height="385" fill="#843c0c"/>
<rect x="351.4" y="2180.2" width="20" height="404.2" fill="#4f2408"/>
<path d="M410.7 2584.4V2251.7H430.5V2584.4" fill="#fff" stroke="#2b2b2b" stroke-width="2.9" stroke-linejoin="miter"/>
<rect x="433.6" y="2110.4" width="20" height="474" fill="#fbe5d6"/>
<rect x="456.6" y="2181.9" width="20" height="402.5" fill="#f8cbad"/>
<rect x="479.6" y="2315.7" width="20" height="268.7" fill="#f4b183"/>
<rect x="502.6" y="2347.9" width="20" height="236.5" fill="#c55a11"/>
<rect x="525.6" y="2219.9" width="20" height="364.5" fill="#843c0c"/>
<rect x="548.6" y="2173.4" width="20" height="411" fill="#4f2408"/>
<path d="M608 2584.4V2251.4H627.8V2584.4" fill="#fff" stroke="#2b2b2b" stroke-width="2.9" stroke-linejoin="miter"/>
<rect x="630.9" y="2059.7" width="20" height="524.7" fill="#fbe5d6"/>
<rect x="653.9" y="2251.4" width="20" height="333" fill="#f8cbad"/>
<rect x="676.9" y="2296.9" width="20" height="287.5" fill="#f4b183"/>
<rect x="699.9" y="2219.9" width="20" height="364.5" fill="#c55a11"/>
<rect x="722.9" y="2206.2" width="20" height="378.2" fill="#843c0c"/>
<rect x="745.9" y="2176.8" width="20" height="407.6" fill="#4f2408"/>
<path d="M805.2 2584.4V2252.4H825V2584.4" fill="#fff" stroke="#2b2b2b" stroke-width="2.9" stroke-linejoin="miter"/>
<rect x="828.1" y="2139.1" width="20" height="445.3" fill="#fbe5d6"/>
<rect x="851.1" y="2203.5" width="20" height="380.9" fill="#f8cbad"/>
<rect x="874.1" y="2317.5" width="20" height="266.9" fill="#f4b183"/>
<rect x="897.1" y="2248" width="20" height="336.4" fill="#c55a11"/>
<rect x="920.1" y="2170.3" width="20" height="414.1" fill="#843c0c"/>
<rect x="943.1" y="2133.3" width="20" height="451.1" fill="#4f2408"/>
<path d="M1002.4 2584.4V2248.3H1022.2V2584.4" fill="#fff" stroke="#2b2b2b" stroke-width="2.9" stroke-linejoin="miter"/>
<rect x="1025.3" y="2148" width="20" height="436.4" fill="#fbe5d6"/>
<rect x="1048.3" y="2306.2" width="20" height="278.2" fill="#f8cbad"/>
<rect x="1071.3" y="2293.5" width="20" height="290.9" fill="#f4b183"/>
<rect x="1094.3" y="2255.5" width="20" height="328.9" fill="#c55a11"/>
<rect x="1117.3" y="2240.1" width="20" height="344.3" fill="#843c0c"/>
<rect x="1140.3" y="2232.6" width="20" height="351.8" fill="#4f2408"/>
<path d="M1199.6 2584.4V2251.4H1219.5V2584.4" fill="#fff" stroke="#2b2b2b" stroke-width="2.9" stroke-linejoin="miter"/>
<rect x="1222.5" y="2342.1" width="20" height="242.3" fill="#fbe5d6"/>
<rect x="1245.5" y="2261" width="20" height="323.4" fill="#f8cbad"/>
<rect x="1268.5" y="2176.8" width="20" height="407.6" fill="#f4b183"/>
<rect x="1291.5" y="2165.1" width="20" height="419.3" fill="#c55a11"/>
<rect x="1314.5" y="2264.4" width="20" height="320" fill="#843c0c"/>
<rect x="1337.5" y="2297.6" width="20" height="286.8" fill="#4f2408"/>
<path d="M1396.9 2584.4V2247.3H1416.7V2584.4" fill="#fff" stroke="#2b2b2b" stroke-width="2.9" stroke-linejoin="miter"/>
<rect x="1419.8" y="2339.7" width="20" height="244.7" fill="#fbe5d6"/>
<rect x="1442.8" y="2251.4" width="20" height="333" fill="#f8cbad"/>
<rect x="1465.8" y="2095" width="20" height="489.4" fill="#f4b183"/>
<rect x="1488.8" y="2249.7" width="20" height="334.7" fill="#c55a11"/>
<rect x="1511.8" y="2303.8" width="20" height="280.6" fill="#843c0c"/>
<rect x="1534.8" y="2333.5" width="20" height="250.9" fill="#4f2408"/>
<path d="M1594.1 2584.4V2244.9H1613.9V2584.4" fill="#fff" stroke="#2b2b2b" stroke-width="2.9" stroke-linejoin="miter"/>
<rect x="1617" y="2345.5" width="20" height="238.9" fill="#fbe5d6"/>
<rect x="1640" y="2228.5" width="20" height="355.9" fill="#f8cbad"/>
<rect x="1663" y="2141.9" width="20" height="442.5" fill="#f4b183"/>
<rect x="1686" y="2136.7" width="20" height="447.7" fill="#c55a11"/>
<rect x="1709" y="2221.6" width="20" height="362.8" fill="#843c0c"/>
<rect x="1732" y="2297.6" width="20" height="286.8" fill="#4f2408"/>
<path d="M1791.3 2584.4V2246.2H1811.1V2584.4" fill="#fff" stroke="#2b2b2b" stroke-width="2.9" stroke-linejoin="miter"/>
<rect x="1814.2" y="2105.2" width="20" height="479.2" fill="#fbe5d6"/>
<rect x="1837.2" y="2236.7" width="20" height="347.7" fill="#f8cbad"/>
<rect x="1860.2" y="2290.1" width="20" height="294.3" fill="#f4b183"/>
<rect x="1883.2" y="2336.3" width="20" height="248.1" fill="#c55a11"/>
<rect x="1906.2" y="2240.4" width="20" height="344" fill="#843c0c"/>
<rect x="1929.2" y="2188.8" width="20" height="395.6" fill="#4f2408"/>
<path d="M1988.6 2584.4V2244.9H2008.4V2584.4" fill="#fff" stroke="#2b2b2b" stroke-width="2.9" stroke-linejoin="miter"/>
<rect x="2011.5" y="2176.8" width="20" height="407.6" fill="#fbe5d6"/>
<rect x="2034.5" y="2207.9" width="20" height="376.5" fill="#f8cbad"/>
<rect x="2057.5" y="2351.7" width="20" height="232.7" fill="#f4b183"/>
<rect x="2080.5" y="2276.4" width="20" height="308" fill="#c55a11"/>
<rect x="2103.5" y="2207.9" width="20" height="376.5" fill="#843c0c"/>
<rect x="2126.5" y="2170.3" width="20" height="414.1" fill="#4f2408"/>
<path d="M2185.8 2584.4V2246.2H2205.6V2584.4" fill="#fff" stroke="#2b2b2b" stroke-width="2.9" stroke-linejoin="miter"/>
<rect x="2208.7" y="2060.4" width="20" height="524" fill="#fbe5d6"/>
<rect x="2231.7" y="2239.4" width="20" height="345" fill="#f8cbad"/>
<rect x="2254.7" y="2300.3" width="20" height="284.1" fill="#f4b183"/>
<rect x="2277.7" y="2206.2" width="20" height="378.2" fill="#c55a11"/>
<rect x="2300.7" y="2181.9" width="20" height="402.5" fill="#843c0c"/>
<rect x="2323.7" y="2171" width="20" height="413.4" fill="#4f2408"/>
<line x1="193.6" x2="2363" y1="2584.7" y2="2584.7" stroke="#d9d9d9" stroke-width="2"/>
<path class="e" d="M223.4 2172.7V2319.8M217.9 2172.7h11M217.9 2319.8h11M246.4 2097.4V2221.6M240.9 2097.4h11M240.9 2221.6h11M269.4 2177.1V2298.6M263.9 2177.1h11M263.9 2298.6h11M292.4 2303.8V2375.3M286.9 2303.8h11M286.9 2375.3h11M315.4 2267.5V2377M309.9 2267.5h11M309.9 2377h11M338.4 2111.1V2288.4M332.9 2111.1h11M332.9 2288.4h11M361.4 2112.8V2246.9M355.9 2112.8h11M355.9 2246.9h11M420.6 2204.2V2296.9M415.1 2204.2h11M415.1 2296.9h11M443.6 2059.7V2160M438.1 2059.7h11M438.1 2160h11M466.6 2144.6V2217.2M461.1 2144.6h11M461.1 2217.2h11M489.6 2257.6V2374.6M484.1 2257.6h11M484.1 2374.6h11M512.6 2305.5V2389M507.1 2305.5h11M507.1 2389h11M535.6 2160V2280.5M530.1 2160h11M530.1 2280.5h11M558.6 2100.1V2243.5M553.1 2100.1h11M553.1 2243.5h11M617.9 2190.8V2311.3M612.4 2190.8h11M612.4 2311.3h11M640.9 1977.6V2141.2M635.4 1977.6h11M635.4 2141.2h11M663.9 2192.5V2310.6M658.4 2192.5h11M658.4 2310.6h11M686.9 2261V2331.1M681.4 2261h11M681.4 2331.1h11M709.9 2179.5V2258.2M704.4 2179.5h11M704.4 2258.2h11M732.9 2152.8V2260M727.4 2152.8h11M727.4 2260h11M755.9 2084.4V2268.5M750.4 2084.4h11M750.4 2268.5h11M815.1 2204.2V2296.9M809.6 2204.2h11M809.6 2296.9h11M838.1 2059V2217.9M832.6 2059h11M832.6 2217.9h11M861.1 2164.1V2241.8M855.6 2164.1h11M855.6 2241.8h11M884.1 2269.2V2365M878.6 2269.2h11M878.6 2365h11M907.1 2193.9V2302.7M901.6 2193.9h11M901.6 2302.7h11M930.1 2099.8V2238.7M924.6 2099.8h11M924.6 2238.7h11M953.1 2069V2195.9M947.6 2069h11M947.6 2195.9h11M1012.3 2179.5V2316.4M1006.8 2179.5h11M1006.8 2316.4h11M1035.3 2059.7V2234.3M1029.8 2059.7h11M1029.8 2234.3h11M1058.3 2245.2V2366.7M1052.8 2245.2h11M1052.8 2366.7h11M1081.3 2237V2350.7M1075.8 2237h11M1075.8 2350.7h11M1104.3 2206.9V2303.4M1098.8 2206.9h11M1098.8 2303.4h11M1127.3 2176.8V2303.4M1121.8 2176.8h11M1121.8 2303.4h11M1150.3 2176.8V2287.3M1144.8 2176.8h11M1144.8 2287.3h11M1209.5 2188.8V2311.3M1204 2188.8h11M1204 2311.3h11M1232.5 2313V2371.2M1227 2313h11M1227 2371.2h11M1255.5 2211V2309.6M1250 2211h11M1250 2309.6h11M1278.5 2128.9V2224.7M1273 2128.9h11M1273 2224.7h11M1301.5 2064.2V2266.8M1296 2064.2h11M1296 2266.8h11M1324.5 2202.5V2325.7M1319 2202.5h11M1319 2325.7h11M1347.5 2245.6V2349.6M1342 2245.6h11M1342 2349.6h11M1406.8 2171V2321.6M1401.3 2171h11M1401.3 2321.6h11M1429.8 2294.2V2384.2M1424.3 2294.2h11M1424.3 2384.2h11M1452.8 2187.4V2315.7M1447.3 2187.4h11M1447.3 2315.7h11M1475.8 1988.9V2201.1M1470.3 1988.9h11M1470.3 2201.1h11M1498.8 2169.3V2330.1M1493.3 2169.3h11M1493.3 2330.1h11M1521.8 2253.1V2353.4M1516.3 2253.1h11M1516.3 2353.4h11M1544.8 2290.1V2377.3M1539.3 2290.1h11M1539.3 2377.3h11M1604 2154.5V2334.2M1598.5 2154.5h11M1598.5 2334.2h11M1627 2293.5V2396.2M1621.5 2293.5h11M1621.5 2396.2h11M1650 2173.4V2283.2M1644.5 2173.4h11M1644.5 2283.2h11M1673 2083.7V2199M1667.5 2083.7h11M1667.5 2199h11M1696 2051.9V2222.3M1690.5 2051.9h11M1690.5 2222.3h11M1719 2172V2271.2M1713.5 2172h11M1713.5 2271.2h11M1742 2251.4V2343.8M1736.5 2251.4h11M1736.5 2343.8h11M1801.2 2166.5V2324.3M1795.7 2166.5h11M1795.7 2324.3h11M1824.2 2014.2V2195.6M1818.7 2014.2h11M1818.7 2195.6h11M1847.2 2166.5V2307.2M1841.7 2166.5h11M1841.7 2307.2h11M1870.2 2239.4V2340.4M1864.7 2239.4h11M1864.7 2340.4h11M1893.2 2294.9V2377.3M1887.7 2294.9h11M1887.7 2377.3h11M1916.2 2160V2320.9M1910.7 2160h11M1910.7 2320.9h11M1939.2 2113.5V2264.1M1933.7 2113.5h11M1933.7 2264.1h11M1998.5 2164.8V2324M1993 2164.8h11M1993 2324h11M2021.5 2107V2246.3M2016 2107h11M2016 2246.3h11M2044.5 2148.7V2266.8M2039 2148.7h11M2039 2266.8h11M2067.5 2312V2391.7M2062 2312h11M2062 2391.7h11M2090.5 2220.6V2331.1M2085 2220.6h11M2085 2331.1h11M2113.5 2144.6V2273M2108 2144.6h11M2108 2273h11M2136.5 2110.4V2229.1M2131 2110.4h11M2131 2229.1h11M2195.7 2165.1V2325M2190.2 2165.1h11M2190.2 2325h11M2218.7 1969.7V2150.4M2213.2 1969.7h11M2213.2 2150.4h11M2241.7 2172.7V2306.2M2236.2 2172.7h11M2236.2 2306.2h11M2264.7 2246.3V2353.4M2259.2 2246.3h11M2259.2 2353.4h11M2287.7 2125.8V2285.6M2282.2 2125.8h11M2282.2 2285.6h11M2310.7 2101.8V2260.6M2305.2 2101.8h11M2305.2 2260.6h11M2333.7 2103.2V2238.7M2328.2 2103.2h11M2328.2 2238.7h11"/>
<text class="l" x="222.5" y="2162.4" text-anchor="middle">bc</text>
<text class="l" x="246.5" y="2082.7" text-anchor="middle">d</text>
<text class="l" x="268.7" y="2160.7" text-anchor="middle">cd</text>
<text class="l" x="291.7" y="2263.4" text-anchor="middle">a</text>
<text class="l" x="314.2" y="2245.2" text-anchor="middle">ab</text>
<text class="l" x="337.2" y="2111.1" text-anchor="middle">cd</text>
<text class="l" x="361.1" y="2082.7" text-anchor="middle">cd</text>
<text class="l" x="418.6" y="2194.2" text-anchor="middle">b</text>
<text class="l" x="443.3" y="2048.4" text-anchor="middle">d</text>
<text class="l" x="463.8" y="2119.6" text-anchor="middle">c</text>
<text class="l" x="489.5" y="2235" text-anchor="middle">a</text>
<text class="l" x="514.1" y="2278.1" text-anchor="middle">a</text>
<text class="l" x="537.4" y="2135.7" text-anchor="middle">bc</text>
<text class="l" x="558.6" y="2085.4" text-anchor="middle">c</text>
<text class="l" x="617.8" y="2185.3" text-anchor="middle">ab</text>
<text class="l" x="640.1" y="1967.3" text-anchor="middle">c</text>
<text class="l" x="665.7" y="2182.3" text-anchor="middle">ab</text>
<text class="l" x="682.9" y="2213.1" text-anchor="middle">a</text>
<text class="l" x="709.2" y="2162.4" text-anchor="middle">ab</text>
<text class="l" x="733.2" y="2129.2" text-anchor="middle">b</text>
<text class="l" x="759.2" y="2080.3" text-anchor="middle">b</text>
<text class="l" x="811.5" y="2175.1" text-anchor="middle">ab</text>
<text class="l" x="837.5" y="2046" text-anchor="middle">c</text>
<text class="l" x="863.2" y="2148.7" text-anchor="middle">bc</text>
<text class="l" x="881" y="2260" text-anchor="middle">a</text>
<text class="l" x="906" y="2173.4" text-anchor="middle">ab</text>
<text class="l" x="923.8" y="2075.1" text-anchor="middle">c</text>
<text class="l" x="957.3" y="2058" text-anchor="middle">c</text>
<text class="l" x="1009.3" y="2166.9" text-anchor="middle">a</text>
<text class="l" x="1037.4" y="2048.4" text-anchor="middle">b</text>
<text class="l" x="1054.8" y="2224" text-anchor="middle">a</text>
<text class="l" x="1080.5" y="2222.3" text-anchor="middle">a</text>
<text class="l" x="1104.1" y="2192.5" text-anchor="middle">a</text>
<text class="l" x="1126.7" y="2165.1" text-anchor="middle">a</text>
<text class="l" x="1149.6" y="2163.1" text-anchor="middle">a</text>
<text class="l" x="1210.2" y="2175.4" text-anchor="middle">b</text>
<text class="l" x="1234.5" y="2297.6" text-anchor="middle">a</text>
<text class="l" x="1255.1" y="2180.5" text-anchor="middle">b</text>
<text class="l" x="1275.3" y="2115.2" text-anchor="middle">c</text>
<text class="l" x="1299.2" y="2050.1" text-anchor="middle">c</text>
<text class="l" x="1326.6" y="2194.9" text-anchor="middle">b</text>
<text class="l" x="1347.1" y="2238.7" text-anchor="middle">ab</text>
<text class="l" x="1406.6" y="2161.4" text-anchor="middle">b</text>
<text class="l" x="1429.9" y="2260.6" text-anchor="middle">a</text>
<text class="l" x="1451.5" y="2172.7" text-anchor="middle">ab</text>
<text class="l" x="1475.4" y="1980" text-anchor="middle">c</text>
<text class="l" x="1499.4" y="2157.3" text-anchor="middle">ab</text>
<text class="l" x="1521.6" y="2238.4" text-anchor="middle">ab</text>
<text class="l" x="1545.6" y="2279.5" text-anchor="middle">ab</text>
<text class="l" x="1602.1" y="2140.2" text-anchor="middle">b</text>
<text class="l" x="1628.4" y="2271.2" text-anchor="middle">a</text>
<text class="l" x="1650" y="2154.5" text-anchor="middle">b</text>
<text class="l" x="1670.5" y="2057.3" text-anchor="middle">c</text>
<text class="l" x="1695.1" y="2040.2" text-anchor="middle">c</text>
<text class="l" x="1719.1" y="2157.3" text-anchor="middle">b</text>
<text class="l" x="1742.4" y="2229.1" text-anchor="middle">ab</text>
<text class="l" x="1801.2" y="2145.3" text-anchor="middle">bc</text>
<text class="l" x="1824.2" y="1997.1" text-anchor="middle">d</text>
<text class="l" x="1846.8" y="2138.4" text-anchor="middle">bc</text>
<text class="l" x="1867" y="2224" text-anchor="middle">ab</text>
<text class="l" x="1892.6" y="2261.7" text-anchor="middle">a</text>
<text class="l" x="1914.2" y="2147" text-anchor="middle">bc</text>
<text class="l" x="1938.8" y="2098.1" text-anchor="middle">cd</text>
<text class="l" x="1998.7" y="2157.3" text-anchor="middle">bc</text>
<text class="l" x="2018.9" y="2092.2" text-anchor="middle">c</text>
<text class="l" x="2047.3" y="2136.7" text-anchor="middle">bc</text>
<text class="l" x="2066.8" y="2299.3" text-anchor="middle">a</text>
<text class="l" x="2091.1" y="2198.3" text-anchor="middle">b</text>
<text class="l" x="2111.6" y="2126.5" text-anchor="middle">bc</text>
<text class="l" x="2141.4" y="2093.3" text-anchor="middle">c</text>
<text class="l" x="2190.3" y="2145.3" text-anchor="middle">ab</text>
<text class="l" x="2218.4" y="1959.4" text-anchor="middle">c</text>
<text class="l" x="2242.4" y="2164.8" text-anchor="middle">ab</text>
<text class="l" x="2264.6" y="2225.7" text-anchor="middle">a</text>
<text class="l" x="2287.9" y="2119.6" text-anchor="middle">ab</text>
<text class="l" x="2311.8" y="2083.7" text-anchor="middle">b</text>
<text class="l" x="2333.8" y="2071.7" text-anchor="middle">b</text>
<text class="g" x="292.4" y="2630" text-anchor="middle">Caspase 2</text>
<text class="g" x="489.6" y="2630" text-anchor="middle">Caspase 3</text>
<text class="g" x="686.9" y="2630" text-anchor="middle">Caspase 7</text>
<text class="g" x="884.1" y="2630" text-anchor="middle">Caspase 8</text>
<text class="g" x="1081.3" y="2630" text-anchor="middle">Caspase 9</text>
<text class="g" x="1278.5" y="2630" text-anchor="middle">Bcl-2</text>
<text class="g" x="1475.8" y="2630" text-anchor="middle">IAP</text>
<text class="g" x="1673" y="2630" text-anchor="middle">Mcl-1b</text>
<text class="g" x="1870.2" y="2630" text-anchor="middle">Apaf-1</text>
<text class="g" x="2067.5" y="2630" text-anchor="middle">Bax</text>
<text class="g" x="2264.7" y="2630" text-anchor="middle">FasL</text>
</g>
</svg></body></html>
